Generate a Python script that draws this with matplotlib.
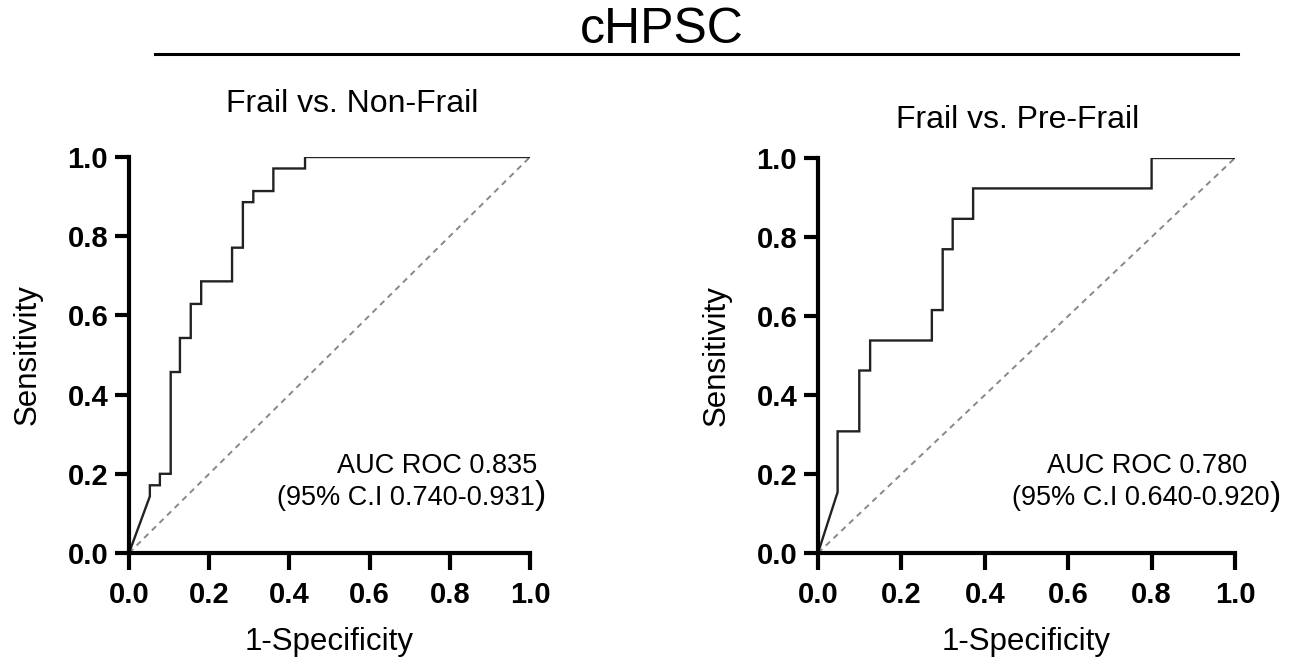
import matplotlib
matplotlib.use("Agg")
import matplotlib.pyplot as plt
from matplotlib.lines import Line2D

plt.rcParams['font.family'] = ['Liberation Sans', 'DejaVu Sans']

# Frail vs. Non-Frail ROC (1-specificity, sensitivity)
left_fpr = [0.0, 0.052, 0.052, 0.077, 0.077, 0.104, 0.104, 0.127, 0.127, 0.154, 0.154,
            0.18, 0.18, 0.257, 0.257, 0.284, 0.284, 0.31, 0.31, 0.36, 0.36, 0.439, 0.439, 1.0]
left_tpr = [0.0, 0.143, 0.171, 0.171, 0.2, 0.2, 0.457, 0.457, 0.543, 0.543, 0.629,
            0.629, 0.686, 0.686, 0.771, 0.771, 0.886, 0.886, 0.914, 0.914, 0.971, 0.971, 1.0, 1.0]

# Frail vs. Pre-Frail ROC
right_fpr = [0.0, 0.047, 0.047, 0.099, 0.099, 0.125, 0.125, 0.273, 0.273, 0.299, 0.299,
             0.323, 0.323, 0.372, 0.372, 0.8, 0.8, 1.0]
right_tpr = [0.0, 0.154, 0.308, 0.308, 0.462, 0.462, 0.538, 0.538, 0.615, 0.615, 0.769,
             0.769, 0.846, 0.846, 0.923, 0.923, 1.0, 1.0]

titles = ["Frail vs. Non-Frail", "Frail vs. Pre-Frail"]
auc_lines = [("AUC ROC 0.835", "(95% C.I 0.740-0.931"), ("AUC ROC 0.780", "(95% C.I 0.640-0.920")]
ticks = [0.0, 0.2, 0.4, 0.6, 0.8, 1.0]
tick_labels = ["0.0", "0.2", "0.4", "0.6", "0.8", "1.0"]

W, H = 1298, 663
fig = plt.figure(figsize=(W / 100, H / 100), dpi=100)

def ax_rect(x0, x1, y0, y1):
    return [x0 / W, 1 - y1 / H, (x1 - x0) / W, (y1 - y0) / H]

axes = [fig.add_axes(ax_rect(129, 530, 157, 553)),
        fig.add_axes(ax_rect(818, 1235, 158, 553))]
curves = [(left_fpr, left_tpr), (right_fpr, right_tpr)]
# positions (pixels) for annotation text: line1 center x, line2 right end x (before paren)
auc_pos = [(437, 535), (1147, 1270)]
ax_left_px = [(129, 530), (818, 1235)]

for i, ax in enumerate(axes):
    fpr, tpr = curves[i]
    ax.plot([0, 1], [0, 1], linestyle=(0, (3, 2.5)), color='#888888', linewidth=1.4)
    ax.plot(fpr, tpr, color='#222222', linewidth=1.7, solid_joinstyle='miter')
    ax.set_xlim(0, 1)
    ax.set_ylim(0, 1)
    for s in ['top', 'right']:
        ax.spines[s].set_visible(False)
    for s in ['left', 'bottom']:
        ax.spines[s].set_linewidth(3)
        ax.spines[s].set_color('black')
    ax.set_xticks(ticks)
    ax.set_yticks(ticks)
    ax.set_xticklabels(tick_labels, fontsize=21, fontweight='bold')
    ax.set_yticklabels(tick_labels, fontsize=21, fontweight='bold')
    ax.tick_params(axis='x', direction='out', length=12, width=3, pad=8)
    ax.tick_params(axis='y', direction='out', length=10, width=3, pad=5)
    ax.set_xlabel("1-Specificity", fontsize=22.5, labelpad=13)
    ax.set_ylabel("Sensitivity", fontsize=22.5, labelpad=18)
    l1, l2 = auc_lines[i]
    x0, x1 = ax_left_px[i]
    c1, e2 = auc_pos[i]
    ax.text((c1 - x0) / (x1 - x0), 0.22, l1, fontsize=19.5, ha='center', va='center')
    ax.text((e2 - x0) / (x1 - x0), 0.139, l2, fontsize=19.5, ha='right', va='center')
    ax.text((e2 - x0) / (x1 - x0), 0.144, ")", fontsize=24, ha='left', va='center')

fig.text(352 / W, 1 - 104 / H, titles[0], fontsize=23, ha='center', va='center')
fig.text(1018 / W, 1 - 120 / H, titles[1], fontsize=23, ha='center', va='center')
fig.text(662 / W, 1 - 30 / H, "cHPSC", fontsize=36, ha='center', va='center')
fig.add_artist(Line2D([155 / W, 1238 / W], [1 - 54 / H, 1 - 54 / H], color='black', linewidth=2.2,
                      transform=fig.transFigure))

fig.savefig("out.png", dpi=100, facecolor='white')
